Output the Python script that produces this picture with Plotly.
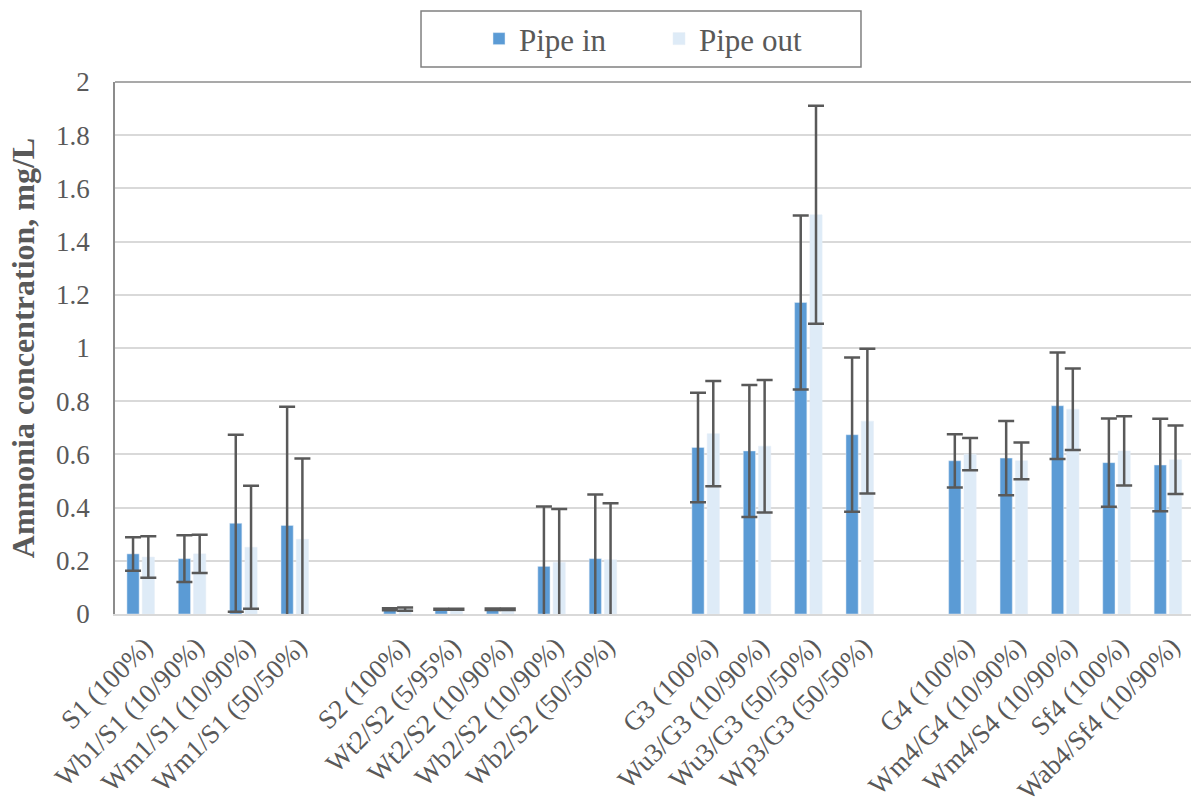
import plotly.graph_objects as go

# Sample groups (one blank slot is left between consecutive groups)
group_1 = ["S1 (100%)", "Wb1/S1 (10/90%)", "Wm1/S1 (10/90%)", "Wm1/S1 (50/50%)"]
group_2 = ["S2 (100%)", "Wt2/S2 (5/95%)", "Wt2/S2 (10/90%)", "Wb2/S2 (10/90%)", "Wb2/S2 (50/50%)"]
group_3 = ["G3 (100%)", "Wu3/G3 (10/90%)", "Wu3/G3 (50/50%)", "Wp3/G3 (50/50%)"]
group_4 = ["G4 (100%)", "Wm4/G4 (10/90%)", "Wm4/S4 (10/90%)", "Sf4 (100%)", "Wab4/Sf4 (10/90%)"]

# Mean ammonia concentration, mg/L
pipe_in = [0.226, 0.208, 0.341, 0.333,
           0.018, 0.018, 0.018, 0.179, 0.208,
           0.626, 0.613, 1.171, 0.674,
           0.576, 0.586, 0.783, 0.569, 0.560]
pipe_out = [0.214, 0.226, 0.251, 0.281,
            0.018, 0.018, 0.018, 0.194, 0.204,
            0.678, 0.631, 1.501, 0.725,
            0.601, 0.576, 0.770, 0.613, 0.580]

# Standard deviations
err_in = [0.063, 0.088, 0.333, 0.446,
          0.004, 0.002, 0.003, 0.225, 0.241,
          0.206, 0.248, 0.327, 0.290,
          0.100, 0.140, 0.200, 0.166, 0.174]
err_out = [0.078, 0.072, 0.231, 0.304,
           0.006, 0.002, 0.003, 0.201, 0.212,
           0.198, 0.249, 0.410, 0.272,
           0.061, 0.069, 0.153, 0.130, 0.129]

y_ticks = [0, 0.2, 0.4, 0.6, 0.8, 1, 1.2, 1.4, 1.6, 1.8, 2]

# slot index of each category, leaving a gap after each group
labels, slots = [], []
pos = 0
for grp in (group_1, group_2, group_3, group_4):
    for name in grp:
        labels.append(name)
        slots.append(pos)
        pos += 1
    pos += 1

TEXT = "#595959"
FONT = "Liberation Serif"

err_style = dict(type="data", visible=True, color="#595959", thickness=2.5, width=8)

fig = go.Figure()
fig.add_trace(go.Bar(
    name="Pipe in", x=slots, y=pipe_in, marker_color="#5B9BD5",
    error_y=dict(array=err_in, **err_style),
))
fig.add_trace(go.Bar(
    name="Pipe out", x=slots, y=pipe_out, marker_color="#DEEBF7",
    error_y=dict(array=err_out, **err_style),
))

fig.update_layout(
    width=1191, height=805,
    margin=dict(l=115, r=0, t=82, b=191),
    paper_bgcolor="white", plot_bgcolor="white",
    barmode="group", bargap=0.405, bargroupgap=0.2,
    font=dict(family=FONT, color=TEXT),
    showlegend=True,
    legend=dict(
        orientation="h", xref="container", yref="container",
        x=0.4022, xanchor="left", y=0.9516, yanchor="middle",
        font=dict(size=31, color=TEXT, family=FONT),
        bgcolor="rgba(0,0,0,0)", borderwidth=0,
        entrywidth=135, entrywidthmode="pixels",
    ),
    shapes=[
        # legend frame
        dict(type="rect", xref="paper", yref="paper",
             x0=0.2844, x1=0.6933, y0=1.0282, y1=1.1335,
             line=dict(color="#808080", width=1.5), fillcolor="rgba(0,0,0,0)"),
        # top border of the plot area
        dict(type="line", xref="paper", yref="paper", x0=0, x1=1, y0=1, y1=1,
             line=dict(color="#8C8C8C", width=1.5)),
    ],
)

fig.update_xaxes(
    range=[-0.5, 20.45], automargin=False,
    tickmode="array", tickvals=slots, ticktext=labels,
    tickangle=-45, tickfont=dict(size=27, color=TEXT, family=FONT),
    showgrid=False, zeroline=False,
    showline=True, linecolor="#D9D9D9", linewidth=2,
    ticks="", ticklabelstandoff=4, ticklabelshift=4,
)
fig.update_yaxes(
    range=[0, 2], tickmode="array", tickvals=y_ticks,
    ticktext=[f"{v:g}" for v in y_ticks],
    tickfont=dict(size=27, color=TEXT, family=FONT),
    showgrid=True, gridcolor="#D9D9D9", gridwidth=1.5,
    zeroline=False,
    showline=True, linecolor="#8C8C8C", linewidth=1.5,
    ticks="", ticklabelstandoff=18,
    title=dict(text="<b>Ammonia concentration, mg/L</b>",
               font=dict(size=32, color=TEXT, family=FONT), standoff=12),
)

fig.write_html("out.html")
